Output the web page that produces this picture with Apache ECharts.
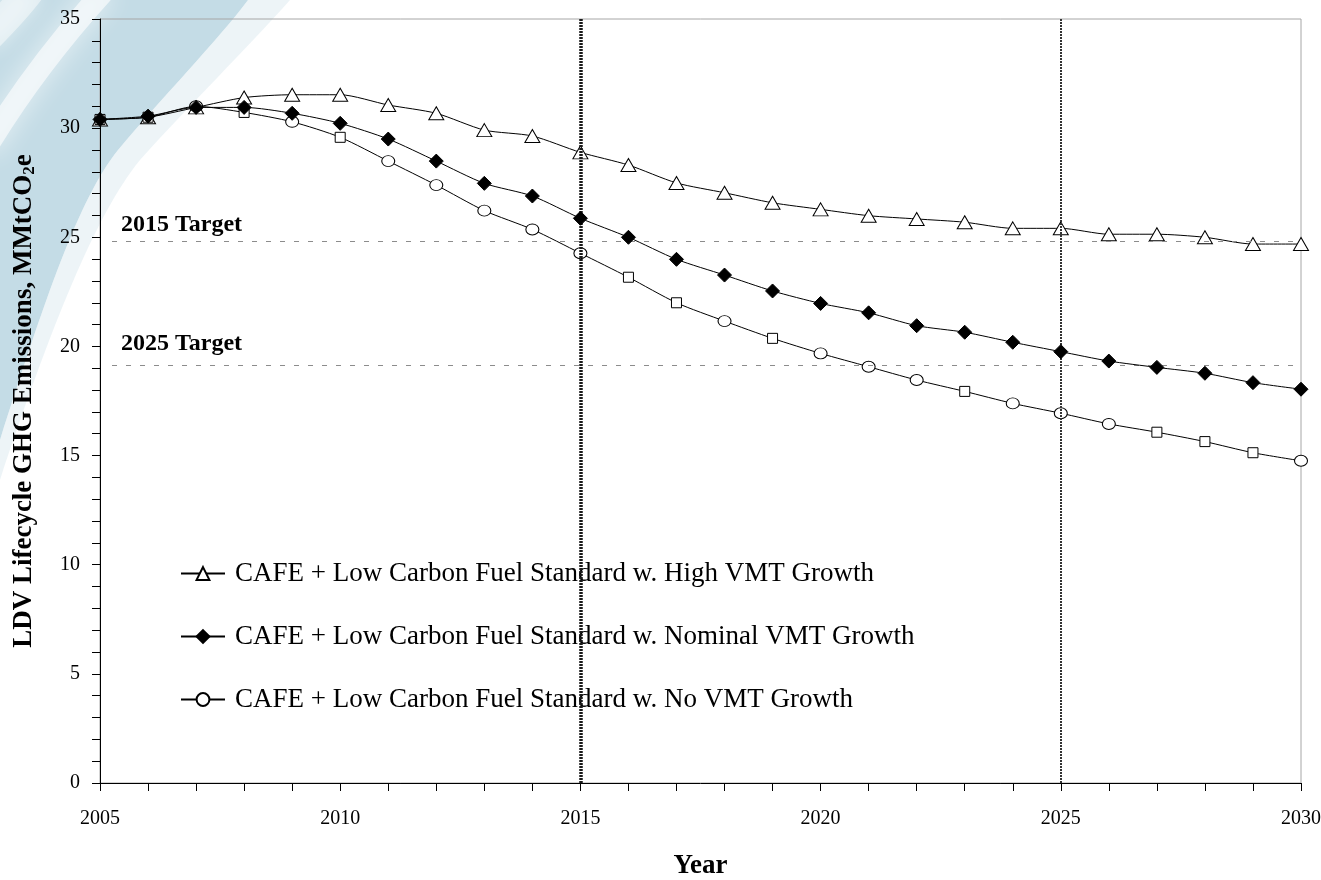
<!DOCTYPE html>
<html>
<head>
<meta charset="utf-8">
<script src="https://cdn.jsdelivr.net/npm/echarts@6/dist/echarts.min.js"></script>
<style>
html,body{margin:0;padding:0;background:#fff;}
#chart{width:1321px;height:880px;}
</style>
</head>
<body>
<div id="chart"></div>
<script>
const years = [2005,2006,2007,2008,2009,2010,2011,2012,2013,2014,2015,2016,2017,2018,2019,2020,2021,2022,2023,2024,2025,2026,2027,2028,2029,2030];
const highVmt = [30.4,30.5,30.95,31.4,31.53,31.53,31.06,30.68,29.91,29.64,28.89,28.31,27.49,27.04,26.58,26.28,25.99,25.84,25.69,25.41,25.41,25.14,25.14,25.0,24.69,24.69];
const nominalVmt = [30.4,30.55,30.95,30.95,30.68,30.22,29.5,28.49,27.47,26.89,25.87,25.0,23.99,23.27,22.54,21.97,21.54,20.95,20.65,20.19,19.76,19.33,19.04,18.77,18.34,18.04];
const noVmt = [30.4,30.5,31.0,30.72,30.29,29.58,28.49,27.39,26.22,25.36,24.27,23.17,22.0,21.16,20.37,19.68,19.07,18.46,17.94,17.39,16.94,16.45,16.07,15.64,15.13,14.76];
const noVmtMarkers = ['rect','rect','circle','rect','circle','rect','circle','circle','circle','circle','circle','rect','rect','circle','rect','circle','circle','circle','rect','circle','circle','circle','rect','rect','rect','circle'];
const seriesNames = [
  'CAFE + Low Carbon Fuel Standard w. High VMT Growth',
  'CAFE + Low Carbon Fuel Standard w. Nominal VMT Growth',
  'CAFE + Low Carbon Fuel Standard w. No VMT Growth'
];
const targetValues = [24.8, 19.15];
const targetLabels = ['2015 Target', '2025 Target'];
const markerYears = [2015, 2025];
const xTicks = {min: 2005, max: 2030, interval: 5};
const yTicks = {min: 0, max: 35, interval: 5};

const FONT = '"Liberation Serif", "Times New Roman", serif';

// decorative watermark shapes (background only)
const wmShapes = {
  wmBlue: 'M0 0 L248 0 C218 40 160 100 118 150 C78 200 45 300 0 440 Z',
  wmHalo: 'M248 0 C218 40 160 100 118 150 C78 200 45 300 0 440 L0 480 C50 330 95 215 140 160 C185 110 250 45 290 0 Z'
};
Object.keys(wmShapes).forEach(k => {
  echarts.graphic.registerShape(k, echarts.graphic.extendPath(wmShapes[k], {}));
});

const chart = echarts.init(document.getElementById('chart'), null, {renderer: 'canvas'});

const pair = (arr) => years.map((y, i) => [y, arr[i]]);
const sizeFor = (s) => s === 'rect' ? [10, 10] : [13, 11];

const option = {
  animation: false,
  backgroundColor: '#ffffff',
  graphic: [
    {type: 'wmHalo', z: -10, silent: true, style: {fill: 'rgba(196,220,230,0.3)'}},
    {type: 'wmBlue', z: -10, silent: true, style: {fill: '#c4dce6'}},
    {type: 'bezierCurve', z: -9, silent: true,
     shape: {x1: -15, y1: 150, cpx1: 15, cpy1: 100, cpx2: 55, cpy2: 45, x2: 105, y2: -10},
     style: {fill: 'none', stroke: 'rgba(255,255,255,0.6)', lineWidth: 22, shadowBlur: 26, shadowColor: 'rgba(255,255,255,1)'}},
    {type: 'bezierCurve', z: -9, silent: true,
     shape: {x1: -15, y1: 40, cpx1: 0, cpy1: 25, cpx2: 15, cpy2: 10, x2: 30, y2: -10},
     style: {fill: 'none', stroke: 'rgba(255,255,255,0.45)', lineWidth: 30, shadowBlur: 20, shadowColor: 'rgba(255,255,255,1)'}}
  ],
  grid: {left: 100, right: 20, top: 19, bottom: 97, show: true, borderColor: '#a6a6a6', borderWidth: 1,
         backgroundColor: 'transparent', containLabel: false, outerBoundsMode: 'none'},
  legend: {
    orient: 'vertical', left: 180, top: 560, padding: 0,
    itemWidth: 44, itemHeight: 16, itemGap: 36,
    textStyle: {fontFamily: FONT, fontSize: 27, color: '#000', padding: [0, 0, 0, 5]},
    data: seriesNames
  },
  xAxis: {
    type: 'value', min: xTicks.min, max: xTicks.max, interval: xTicks.interval,
    name: 'Year', nameLocation: 'middle', nameGap: 70,
    nameTextStyle: {fontFamily: FONT, fontSize: 27, fontWeight: 'bold', color: '#000'},
    axisLine: {lineStyle: {color: '#000', width: 1}},
    axisTick: {show: true, inside: false, length: 8, lineStyle: {color: '#000'}},
    minorTick: {show: true, splitNumber: 5, length: 8, lineStyle: {color: '#000'}},
    splitLine: {show: false},
    axisLabel: {fontFamily: FONT, fontSize: 20, color: '#000', margin: 26, formatter: (v) => String(v)}
  },
  yAxis: {
    type: 'value', min: yTicks.min, max: yTicks.max, interval: yTicks.interval,
    name: 'LDV Lifecycle GHG Emissions, MMtCO{sub|2}e', nameLocation: 'middle', nameGap: 62, nameRotate: 90,
    nameTextStyle: {fontFamily: FONT, fontSize: 27, fontWeight: 'bold', color: '#000',
      rich: {sub: {fontFamily: FONT, fontSize: 17, fontWeight: 'bold', color: '#000', verticalAlign: 'bottom'}}},
    axisLine: {show: true, lineStyle: {color: '#000', width: 1}},
    axisTick: {show: true, inside: false, length: 8, lineStyle: {color: '#000'}},
    minorTick: {show: true, splitNumber: 5, length: 8, lineStyle: {color: '#000'}},
    splitLine: {show: false},
    axisLabel: {fontFamily: FONT, fontSize: 20, color: '#000', margin: 20}
  },
  series: [
    {
      name: 'refs', type: 'line', data: [], silent: true, z: 1,
      markLine: {
        silent: true, symbol: ['none', 'none'], animation: false,
        data: [
          {xAxis: markerYears[0], lineStyle: {color: '#1a1a1a', width: 3.5, type: [2, 1]}, label: {show: false}},
          {xAxis: markerYears[1], lineStyle: {color: '#333', width: 2, type: [2, 1]}, label: {show: false}},
          [{coord: [2005.25, targetValues[0]], lineStyle: {color: '#8c8c8c', width: 1.2, type: [5, 9]},
            label: {show: true, formatter: targetLabels[0], position: 'insideStartTop', distance: [9, 5],
                    fontFamily: FONT, fontSize: 24, fontWeight: 'bold', color: '#000'}},
           {coord: [2030, targetValues[0]]}],
          [{coord: [2005.25, targetValues[1]], lineStyle: {color: '#8c8c8c', width: 1.2, type: [5, 9]},
            label: {show: true, formatter: targetLabels[1], position: 'insideStartTop', distance: [9, 9],
                    fontFamily: FONT, fontSize: 24, fontWeight: 'bold', color: '#000'}},
           {coord: [2030, targetValues[1]]}]
        ]
      }
    },
    {
      name: seriesNames[0], type: 'line', smooth: 0.25, z: 3,
      data: pair(highVmt),
      symbol: 'triangle', symbolSize: [15, 13],
      lineStyle: {color: '#000', width: 1},
      itemStyle: {color: '#fff', borderColor: '#000', borderWidth: 1}
    },
    {
      name: seriesNames[2], type: 'line', smooth: 0.25, z: 4,
      data: years.map((y, i) => ({value: [y, noVmt[i]], symbol: noVmtMarkers[i], symbolSize: sizeFor(noVmtMarkers[i])})),
      symbol: 'circle', symbolSize: [13, 11],
      lineStyle: {color: '#000', width: 1},
      itemStyle: {color: '#fff', borderColor: '#000', borderWidth: 1}
    },
    {
      name: seriesNames[1], type: 'line', smooth: 0.25, z: 5,
      data: pair(nominalVmt),
      symbol: 'diamond', symbolSize: 14,
      lineStyle: {color: '#000', width: 1},
      itemStyle: {color: '#000', borderColor: '#000', borderWidth: 1}
    }
  ]
};
chart.setOption(option);
</script>
</body>
</html>
